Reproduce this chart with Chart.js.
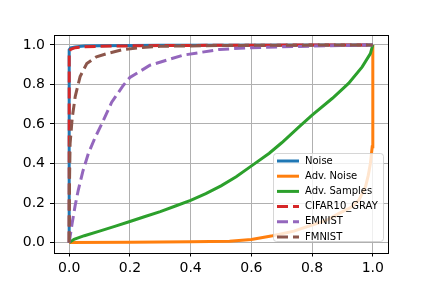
<html>
<head>
<script src="https://cdn.jsdelivr.net/npm/chart.js@4/dist/chart.umd.min.js"></script>
<title>ROC curves</title>
<style>
    body { margin: 0; background: #fff; }
</style>
</head>
<body>
<canvas id="roc-chart" width="432" height="288"></canvas>
<script>
    // series (false positive rate -> true positive rate)
    var seriesNames = ['Noise', 'Adv. Noise', 'Adv. Samples', 'CIFAR10_GRAY', 'EMNIST', 'FMNIST'];
    var seriesColors = ['#1f77b4', '#ff7f0e', '#2ca02c', '#d62728', '#9467bd', '#8c564b'];
    var seriesDashed = [false, false, false, true, true, true];
    var tickValues = [0, 0.2, 0.4, 0.6, 0.8, 1.0];

    var noiseX = [0, 0, 0.005, 0.02, 0.05, 0.1, 0.3, 1];
    var noiseY = [0, 0.975, 0.985, 0.99, 0.994, 0.996, 0.998, 1];

    var advNoiseX = [0, 0.2, 0.4, 0.528, 0.6, 0.67, 0.74, 0.8, 0.85, 0.889, 0.93, 0.954, 0.976, 0.985, 0.992, 0.998, 1, 1];
    var advNoiseY = [0, 0.002, 0.004, 0.007, 0.016, 0.035, 0.058, 0.089, 0.115, 0.148, 0.18, 0.215, 0.283, 0.34, 0.40, 0.485, 0.56, 1];

    var advSamplesX = [0, 0.016, 0.05, 0.1, 0.15, 0.2, 0.25, 0.3, 0.35, 0.4, 0.45, 0.5, 0.55, 0.604, 0.659, 0.7, 0.757, 0.8, 0.867, 0.92, 0.965, 0.992, 1];
    var advSamplesY = [0, 0.017, 0.035, 0.058, 0.082, 0.107, 0.132, 0.157, 0.185, 0.214, 0.248, 0.287, 0.333, 0.392, 0.452, 0.505, 0.585, 0.645, 0.73, 0.805, 0.889, 0.956, 1];

    var cifarX = [0, 0, 0.005, 0.02, 0.05, 0.1, 0.3, 1];
    var cifarY = [0, 0.965, 0.978, 0.986, 0.99, 0.993, 0.997, 1];

    var emnistX = [0, 0.01, 0.02, 0.03, 0.045, 0.063, 0.085, 0.107, 0.14, 0.178, 0.2, 0.266, 0.375, 0.495, 0.6, 0.8, 1];
    var emnistY = [0, 0.1, 0.19, 0.266, 0.36, 0.45, 0.53, 0.6, 0.71, 0.795, 0.835, 0.897, 0.948, 0.977, 0.986, 0.994, 1];

    var fmnistX = [0, 0.001, 0.003, 0.01, 0.02, 0.036, 0.058, 0.09, 0.124, 0.177, 0.233, 0.3, 0.5, 1];
    var fmnistY = [0, 0.3, 0.5, 0.63, 0.74, 0.84, 0.906, 0.94, 0.956, 0.976, 0.986, 0.993, 0.997, 1];

    var seriesX = [noiseX, advNoiseX, advSamplesX, cifarX, emnistX, fmnistX];
    var seriesY = [noiseY, advNoiseY, advSamplesY, cifarY, emnistY, fmnistY];

    var datasets = seriesNames.map((name, i) => ({
        label: name,
        data: seriesX[i].map((x, j) => ({x: x, y: seriesY[i][j]})),
        borderColor: seriesColors[i],
        backgroundColor: seriesColors[i],
        borderWidth: 3,
        borderDash: seriesDashed[i] ? [11, 5] : [],
        pointRadius: 0,
        showLine: true,
        fill: false,
        tension: 0,
        order: seriesNames.length - i   // later series drawn on top
    }));

    // black frame around the plot area, then the legend inside it
    var framePlugin = {
        id: 'frameAndLegend',
        afterDatasetsDraw(chart) {
            var ctx = chart.ctx;
            var a = chart.chartArea;
            ctx.save();
            ctx.strokeStyle = '#000';
            ctx.lineWidth = 1;
            ctx.setLineDash([]);
            ctx.strokeRect(Math.round(a.left) + 0.5, Math.round(a.top) + 0.5,
                Math.round(a.right - a.left), Math.round(a.bottom - a.top));

            // legend box
            var bx = 273.5, by = 153.5, bw = 110, bh = 88;
            ctx.beginPath();
            ctx.roundRect(bx, by, bw, bh, 3);
            ctx.fillStyle = 'rgba(255,255,255,0.8)';
            ctx.fill();
            ctx.strokeStyle = 'rgba(204,204,204,0.8)';
            ctx.stroke();

            ctx.font = '10px "DejaVu Sans"';
            ctx.textBaseline = 'middle';
            ctx.fillStyle = '#000';
            seriesNames.forEach((name, i) => {
                var yy = 161 + i * 15.2;
                ctx.beginPath();
                ctx.setLineDash(seriesDashed[i] ? [11, 5] : []);
                ctx.strokeStyle = seriesColors[i];
                ctx.lineWidth = 3;
                ctx.moveTo(277, yy);
                ctx.lineTo(299, yy);
                ctx.stroke();
                ctx.setLineDash([]);
                ctx.fillText(name, 305, yy);
            });
            ctx.restore();
        }
    };

    var axisTicks = scale => {
        scale.ticks = tickValues.map(v => ({value: v}));
    };

    var rocChart = new Chart(document.getElementById('roc-chart'), {
        type: 'scatter',
        data: {datasets: datasets},
        plugins: [framePlugin],
        options: {
            responsive: false,
            animation: false,
            devicePixelRatio: 1,
            layout: {padding: {top: 35, right: 44, left: 0, bottom: 0}},
            plugins: {
                legend: {display: false},
                tooltip: {enabled: false}
            },
            scales: {
                x: {
                    type: 'linear',
                    min: -0.05,
                    max: 1.05,
                    afterBuildTicks: axisTicks,
                    afterFit: scale => { scale.height = 35.5; },
                    border: {display: false},
                    grid: {color: '#b0b0b0', lineWidth: 1, tickColor: '#000', tickLength: 4},
                    ticks: {
                        color: '#000',
                        padding: 3,
                        maxRotation: 0,
                        font: {family: 'DejaVu Sans', size: 14},
                        callback: v => v.toFixed(1)
                    }
                },
                y: {
                    type: 'linear',
                    min: -0.05,
                    max: 1.05,
                    afterBuildTicks: axisTicks,
                    afterFit: scale => { scale.width = 54; },
                    border: {display: false},
                    grid: {color: '#b0b0b0', lineWidth: 1, tickColor: '#000', tickLength: 4},
                    ticks: {
                        color: '#000',
                        padding: 5,
                        font: {family: 'DejaVu Sans', size: 14},
                        callback: v => v.toFixed(1)
                    }
                }
            }
        }
    });
</script>
</body>
</html>
